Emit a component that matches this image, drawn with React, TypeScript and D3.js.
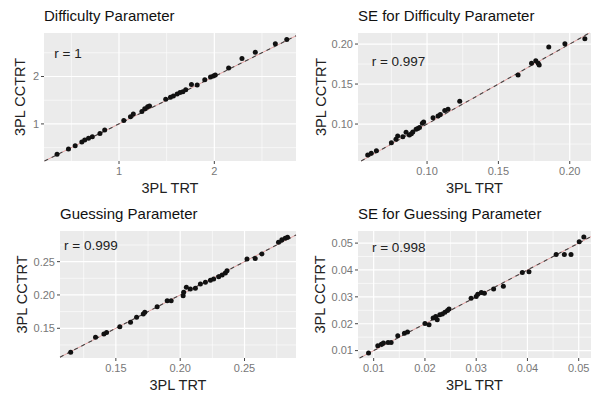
import React from 'react'
import * as d3 from 'd3'

// item estimates: TRT (x) vs CCTRT (y)
const difficultyTRT = [0.35, 0.47, 0.54, 0.61, 0.64, 0.68, 0.72, 0.80, 0.85, 1.05, 1.12, 1.15, 1.24, 1.27, 1.30, 1.32, 1.49, 1.54, 1.57, 1.61, 1.64, 1.67, 1.70, 1.76, 1.82, 1.90, 1.96, 1.99, 2.01, 2.15, 2.29, 2.43, 2.64, 2.76]
const difficultyCCTRT = [0.36, 0.47, 0.54, 0.62, 0.66, 0.70, 0.73, 0.80, 0.87, 1.07, 1.15, 1.21, 1.26, 1.32, 1.36, 1.38, 1.52, 1.56, 1.59, 1.63, 1.66, 1.68, 1.72, 1.83, 1.82, 1.93, 1.99, 2.01, 2.03, 2.18, 2.38, 2.51, 2.69, 2.78]

const seDifficultyTRT = [0.0584, 0.0609, 0.0645, 0.0750, 0.0782, 0.0794, 0.0830, 0.0853, 0.0876, 0.0890, 0.0900, 0.0923, 0.0935, 0.0947, 0.0967, 0.0976, 0.1042, 0.1077, 0.1093, 0.1124, 0.1147, 0.1229, 0.1638, 0.1732, 0.1762, 0.1779, 0.1786, 0.1853, 0.1966, 0.2106]
const seDifficultyCCTRT = [0.0613, 0.0634, 0.0667, 0.0767, 0.0810, 0.0850, 0.0842, 0.0897, 0.0863, 0.0880, 0.0900, 0.0935, 0.0945, 0.0956, 0.1010, 0.1024, 0.1079, 0.1100, 0.1120, 0.1170, 0.1185, 0.1285, 0.1613, 0.1760, 0.1790, 0.1760, 0.1738, 0.1962, 0.2004, 0.2066]

const guessingTRT = [0.1149, 0.1342, 0.1407, 0.1428, 0.1531, 0.1614, 0.1661, 0.1713, 0.1725, 0.1821, 0.1899, 0.1930, 0.2023, 0.2027, 0.2048, 0.2079, 0.2118, 0.2157, 0.2196, 0.2235, 0.2260, 0.2299, 0.2326, 0.2351, 0.2364, 0.2519, 0.2583, 0.2635, 0.2764, 0.2790, 0.2816, 0.2834]
const guessingCCTRT = [0.1139, 0.1364, 0.1413, 0.1438, 0.1523, 0.1589, 0.1664, 0.1714, 0.1739, 0.1823, 0.1913, 0.1913, 0.1988, 0.2039, 0.2114, 0.2089, 0.2099, 0.2164, 0.2189, 0.2219, 0.2239, 0.2274, 0.2299, 0.2329, 0.2364, 0.2539, 0.2549, 0.2615, 0.2790, 0.2829, 0.2850, 0.2865]

const seGuessingTRT = [0.0090, 0.0108, 0.0115, 0.0119, 0.0128, 0.0134, 0.0147, 0.0160, 0.0166, 0.0200, 0.0208, 0.0216, 0.0221, 0.0224, 0.0229, 0.0234, 0.0239, 0.0244, 0.0247, 0.0290, 0.0300, 0.0303, 0.0310, 0.0316, 0.0334, 0.0353, 0.0390, 0.0403, 0.0456, 0.0472, 0.0485, 0.0501, 0.0510]
const seGuessingCCTRT = [0.0091, 0.0118, 0.0124, 0.0128, 0.0130, 0.0130, 0.0155, 0.0165, 0.0169, 0.0201, 0.0196, 0.0221, 0.0227, 0.0215, 0.0233, 0.0236, 0.0243, 0.0249, 0.0255, 0.0295, 0.0301, 0.0310, 0.0316, 0.0313, 0.0329, 0.0339, 0.0391, 0.0393, 0.0458, 0.0458, 0.0458, 0.0505, 0.0523]

// tick labels
const difficultyTicks = ['1', '2']
const seDifficultyTicks = ['0.10', '0.15', '0.20']
const guessingTicks = ['0.15', '0.20', '0.25']
const seGuessingTicks = ['0.01', '0.02', '0.03', '0.04', '0.05']

const panelTitles = ['Difficulty Parameter', 'SE for Difficulty Parameter', 'Guessing Parameter', 'SE for Guessing Parameter']
const correlations = ['r = 1', 'r = 0.997', 'r = 0.999', 'r = 0.998']

const FONT = 'Liberation Sans, Arial, Helvetica, sans-serif'

// minor grid lines sit halfway between the major ones
function minorTicks(major, domain) {
  const step = major[1] - major[0]
  const out = []
  for (let v = major[0] - step / 2; v <= domain[1]; v += step) {
    if (v >= domain[0]) out.push(v)
  }
  return out
}

function Panel({ frame, title, xs, ys, ticks, xDomain, yDomain, label, labelAt }) {
  const { left, right, top, bottom } = frame
  const x = d3.scaleLinear().domain(xDomain).range([left, right])
  const y = d3.scaleLinear().domain(yDomain).range([bottom, top])
  const tickVals = ticks.map(Number)
  const xMinor = minorTicks(tickVals, xDomain)
  const yMinor = minorTicks(tickVals, yDomain)
  const lo = Math.max(xDomain[0], yDomain[0])
  const hi = Math.min(xDomain[1], yDomain[1])
  const diag = d3.line().x((d) => x(d)).y((d) => y(d))([lo, hi])

  return (
    <g fontFamily={FONT}>
      <text x={left} y={top - 12} fontSize={15} fill="#111">{title}</text>
      <rect x={left} y={top} width={right - left} height={bottom - top} fill="#EBEBEB" />
      {xMinor.map((v) => (
        <line key={'xm' + v} x1={x(v)} x2={x(v)} y1={top} y2={bottom} stroke="#fff" strokeWidth={0.6} />
      ))}
      {yMinor.map((v) => (
        <line key={'ym' + v} x1={left} x2={right} y1={y(v)} y2={y(v)} stroke="#fff" strokeWidth={0.6} />
      ))}
      {tickVals.map((v) => (
        <g key={'g' + v}>
          <line x1={x(v)} x2={x(v)} y1={top} y2={bottom} stroke="#fff" strokeWidth={1.2} />
          <line x1={left} x2={right} y1={y(v)} y2={y(v)} stroke="#fff" strokeWidth={1.2} />
        </g>
      ))}
      <path d={diag} stroke="#e6a3a3" strokeWidth={1} fill="none" />
      <path d={diag} stroke="#444" strokeWidth={1.1} strokeDasharray="4 4" fill="none" />
      {xs.map((v, i) => (
        <circle key={i} cx={x(v)} cy={y(ys[i])} r={2.5} fill="#111" />
      ))}
      <text x={x(labelAt[0])} y={y(labelAt[1])} dy="0.35em" textAnchor="middle" fontSize={13.5} fill="#222">{label}</text>
      {ticks.map((t, i) => (
        <g key={'t' + t}>
          <line x1={x(tickVals[i])} x2={x(tickVals[i])} y1={bottom} y2={bottom + 3} stroke="#444" />
          <text x={x(tickVals[i])} y={bottom + 14} textAnchor="middle" fontSize={11} fill="#777">{t}</text>
          <line x1={left - 3} x2={left} y1={y(tickVals[i])} y2={y(tickVals[i])} stroke="#444" />
          <text x={left - 5} y={y(tickVals[i])} dy="0.35em" textAnchor="end" fontSize={11} fill="#777">{t}</text>
        </g>
      ))}
      <text x={(left + right) / 2} y={bottom + 32} textAnchor="middle" fontSize={14.5} fill="#222">3PL TRT</text>
      <text
        transform={`translate(${frame.yTitle},${(top + bottom) / 2}) rotate(-90)`}
        textAnchor="middle"
        fontSize={14.5}
        fill="#222"
      >3PL CCTRT</text>
    </g>
  )
}

export default function App() {
  return (
    <svg width={592} height={398} style={{ position: 'absolute', left: 0, top: 0, background: '#fff' }}>
      <Panel
        frame={{ left: 44, right: 296, top: 33, bottom: 161, yTitle: 25 }}
        title={panelTitles[0]}
        xs={difficultyTRT}
        ys={difficultyCCTRT}
        ticks={difficultyTicks}
        xDomain={[0.213, 2.857]}
        yDomain={[0.218, 2.917]}
        label={correlations[0]}
        labelAt={[0.465, 2.49]}
      />
      <Panel
        frame={{ left: 358, right: 591, top: 33, bottom: 161, yTitle: 326 }}
        title={panelTitles[1]}
        xs={seDifficultyTRT}
        ys={seDifficultyCCTRT}
        ticks={seDifficultyTicks}
        xDomain={[0.0516, 0.2149]}
        yDomain={[0.0538, 0.2138]}
        label={correlations[1]}
        labelAt={[0.08, 0.178]}
      />
      <Panel
        frame={{ left: 60, right: 296, top: 231, bottom: 358, yTitle: 27 }}
        title={panelTitles[2]}
        xs={guessingTRT}
        ys={guessingCCTRT}
        ticks={guessingTicks}
        xDomain={[0.1066, 0.29]}
        yDomain={[0.1054, 0.296]}
        label={correlations[2]}
        labelAt={[0.1306, 0.275]}
      />
      <Panel
        frame={{ left: 358, right: 591, top: 231, bottom: 358, yTitle: 325 }}
        title={panelTitles[3]}
        xs={seGuessingTRT}
        ys={seGuessingCCTRT}
        ticks={seGuessingTicks}
        xDomain={[0.00694, 0.0524]}
        yDomain={[0.00725, 0.0545]}
        label={correlations[3]}
        labelAt={[0.0149, 0.0486]}
      />
    </svg>
  )
}
